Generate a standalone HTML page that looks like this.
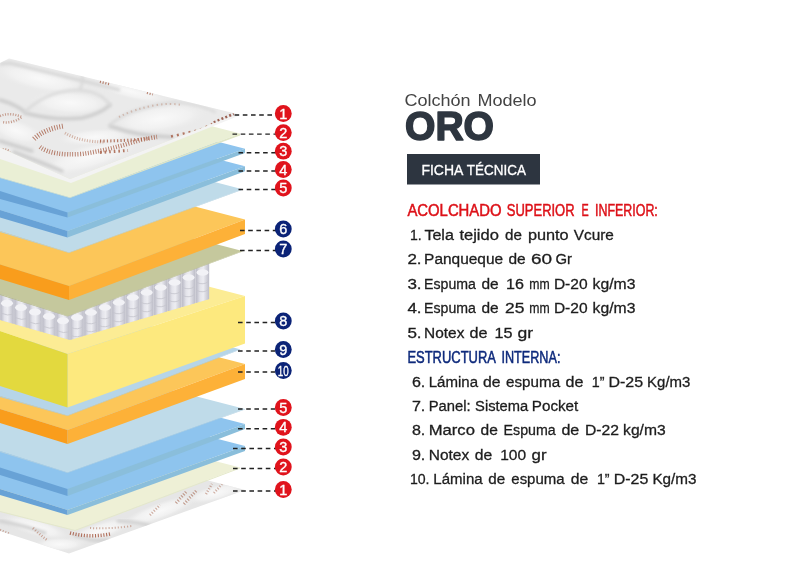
<!DOCTYPE html>
<html lang="es"><head><meta charset="utf-8"><title>Colchón Modelo ORO</title>
<style>
html,body{margin:0;padding:0;background:#fff;}
body{width:800px;height:588px;overflow:hidden;font-family:"Liberation Sans",sans-serif;}
svg{display:block}
svg text{font-family:"Liberation Sans",sans-serif;}
</style></head><body>
<svg width="800" height="588" viewBox="0 0 800 588">
<defs>
<linearGradient id="fabg" x1="0" y1="0" x2="1" y2="1">
<stop offset="0" stop-color="#ececec"/><stop offset="1" stop-color="#e6e6e6"/>
</linearGradient>
<radialGradient id="puff" cx="0.5" cy="0.45" r="0.5">
<stop offset="0" stop-color="#f9f9f9"/><stop offset="0.6" stop-color="#f1f1f1"/><stop offset="1" stop-color="#eaeaea" stop-opacity="0"/>
</radialGradient>
<filter id="blur" x="-10%" y="-10%" width="120%" height="120%"><feGaussianBlur stdDeviation="1.6"/></filter>
<linearGradient id="cyl" x1="0" y1="0" x2="1" y2="0">
<stop offset="0" stop-color="#babac6"/><stop offset="0.3" stop-color="#e3e3ea"/><stop offset="0.55" stop-color="#ededf2"/><stop offset="1" stop-color="#bebec9"/>
</linearGradient>
<pattern id="spr" width="13" height="60" patternUnits="userSpaceOnUse" patternTransform="skewY(-18)">
<rect width="13" height="60" fill="#e9e9ee"/>
<rect x="1" width="11" height="60" fill="#f4f4f7"/>
<rect x="3" width="6" height="60" fill="#fdfdfe"/>
</pattern>
</defs>
<rect width="800" height="588" fill="#fff"/>
<g id="fab-low">
<clipPath id="fabclip2"><polygon points="0,470 135,461.4 245,490 69,553.5 0,531"/></clipPath>
<g clip-path="url(#fabclip2)">
<rect x="0" y="455" width="250" height="100" fill="#e6e6e6"/>
<ellipse cx="160" cy="512" rx="42" ry="9" transform="rotate(-20 160 512)" fill="url(#puff)"/>
<ellipse cx="100" cy="532" rx="36" ry="9" transform="rotate(-18 100 532)" fill="url(#puff)"/>
<ellipse cx="35" cy="528" rx="36" ry="9" transform="rotate(16 35 528)" fill="url(#puff)"/>
<ellipse cx="215" cy="494" rx="30" ry="8" transform="rotate(-14 215 494)" fill="url(#puff)"/>
<ellipse cx="60" cy="545" rx="26" ry="7" transform="rotate(0 60 545)" fill="url(#puff)"/>
<path d="M0 521 Q30 527 45 533 M118 521 Q140 522 150 526 M75 536 Q95 542 108 540" stroke="#cfcfcf" stroke-width="3" fill="none" stroke-linecap="round" filter="url(#blur)"/>
<path d="M70 533 Q90 538 110 534" stroke="#a8614a" stroke-width="3.5" stroke-dasharray="1.1 1.7" fill="none" opacity="0.9"/>
<path d="M90 528 Q110 529 132 526" stroke="#c39a8a" stroke-width="2" stroke-dasharray="1.1 2" fill="none" opacity="0.8"/>
<path d="M176 503 L186 492 M184 504 L197 490" stroke="#b07a66" stroke-width="3" stroke-dasharray="1 1.8" fill="none" opacity="0.8"/>
<path d="M206 494 L212 484 M214 493 L222 484 M150 515 L160 505" stroke="#b98572" stroke-width="2.5" stroke-dasharray="1 1.8" fill="none" opacity="0.7"/>
<path d="M0 530 L10 534 M33 528 Q40 535 47 540" stroke="#b98572" stroke-width="2.5" stroke-dasharray="1 1.8" fill="none" opacity="0.7"/>
</g>
</g>
<polygon points="0,455 130,438.9 240,467.5 75,530 0,511" fill="#eef0d6" />
<polygon points="75,530 240,467.5 240,468.5 75,531" fill="#e4e8c8" />
<polygon points="0,511 75,530 75,531 0,512" fill="#e4e8c8" />
<polygon points="0,435 135,417.4 245,446 67.5,510 0,489" fill="#8ec4ee" />
<polygon points="67.5,510 245,446 245,451 67.5,515" fill="#8abedb" />
<polygon points="0,489 67.5,510 67.5,515 0,495" fill="#68a2d6" />
<polygon points="0,411 135,395.4 245,424 67.5,489 0,467.5" fill="#8ec4ee" />
<polygon points="67.5,489 245,424 245,429 67.5,496" fill="#8abedb" />
<polygon points="0,467.5 67.5,489 67.5,496 0,475" fill="#68a2d6" />
<polygon points="0,383 135,380.4 245,409 67.5,472.5 0,451" fill="#bfdbe9" />
<polygon points="67.5,472.5 245,409 245,409.5 67.5,473" fill="#b0cfe0" />
<polygon points="0,451 67.5,472.5 67.5,473 0,452" fill="#b0cfe0" />
<polygon points="0,355 135,335.4 245,364 67.5,430 0,409" fill="#fcc659" />
<polygon points="67.5,430 245,364 245,379 67.5,444" fill="#fdb138" />
<polygon points="0,409 67.5,430 67.5,444 0,423" fill="#f99d1c" />
<polygon points="0,346 130,320.7 240,349.3 67.5,415.5 0,396" fill="#b6d5e8" />
<polygon points="67.5,415.5 240,349.3 240,349.8 67.5,416" fill="#aacbe0" />
<polygon points="0,396 67.5,415.5 67.5,416 0,397" fill="#aacbe0" />
<polygon points="0,280 135,267.4 245,296 67.5,354 0,331" fill="#fcec94" />
<polygon points="67.5,354 245,296 245,343.5 67.5,407.5" fill="#fde97e" />
<polygon points="0,331 67.5,354 67.5,407.5 0,386" fill="#e3d93e" />
<clipPath id="sprclip"><polygon points="0,285 70,310 209.5,262 209.5,299 70,340 0,320"/></clipPath>
<g id="springs" clip-path="url(#sprclip)">
<polygon points="0,285 70,310 209.5,262 209.5,299 70,340 0,320" fill="#cfcfd7" />
<rect x="70.6" y="305.5" width="12.8" height="38.4" fill="url(#cyl)"/>
<ellipse cx="77.0" cy="317.5" rx="6.0" ry="3.2" fill="#f2f2f6"/>
<path d="M71.0 327.5 q7.0 3 11.9 -1 M71.0 335.5 q7.0 3 11.9 -1" stroke="#c4c4cd" stroke-width="0.8" fill="none"/>
<rect x="84.5" y="300.5" width="12.8" height="39.4" fill="url(#cyl)"/>
<ellipse cx="90.9" cy="312.5" rx="6.0" ry="3.2" fill="#f2f2f6"/>
<path d="M85.0 322.5 q7.0 3 11.9 -1 M85.0 330.5 q7.0 3 11.9 -1" stroke="#c4c4cd" stroke-width="0.8" fill="none"/>
<rect x="98.5" y="295.5" width="12.8" height="40.2" fill="url(#cyl)"/>
<ellipse cx="104.9" cy="307.5" rx="6.0" ry="3.2" fill="#f2f2f6"/>
<path d="M98.9 317.5 q7.0 3 11.9 -1 M98.9 325.5 q7.0 3 11.9 -1" stroke="#c4c4cd" stroke-width="0.8" fill="none"/>
<rect x="112.4" y="290.5" width="12.8" height="41.1" fill="url(#cyl)"/>
<ellipse cx="118.8" cy="302.5" rx="6.0" ry="3.2" fill="#f2f2f6"/>
<path d="M112.8 312.5 q7.0 3 11.9 -1 M112.8 320.5 q7.0 3 11.9 -1" stroke="#c4c4cd" stroke-width="0.8" fill="none"/>
<rect x="126.4" y="285.5" width="12.8" height="42.1" fill="url(#cyl)"/>
<ellipse cx="132.8" cy="297.5" rx="6.0" ry="3.2" fill="#f2f2f6"/>
<path d="M126.8 307.5 q7.0 3 11.9 -1 M126.8 315.5 q7.0 3 11.9 -1" stroke="#c4c4cd" stroke-width="0.8" fill="none"/>
<rect x="140.3" y="280.5" width="12.8" height="42.9" fill="url(#cyl)"/>
<ellipse cx="146.7" cy="292.5" rx="6.0" ry="3.2" fill="#f2f2f6"/>
<path d="M140.8 302.5 q7.0 3 11.9 -1 M140.8 310.5 q7.0 3 11.9 -1" stroke="#c4c4cd" stroke-width="0.8" fill="none"/>
<rect x="154.3" y="275.5" width="12.8" height="43.9" fill="url(#cyl)"/>
<ellipse cx="160.7" cy="287.5" rx="6.0" ry="3.2" fill="#f2f2f6"/>
<path d="M154.7 297.5 q7.0 3 11.9 -1 M154.7 305.5 q7.0 3 11.9 -1" stroke="#c4c4cd" stroke-width="0.8" fill="none"/>
<rect x="168.2" y="270.5" width="12.8" height="44.8" fill="url(#cyl)"/>
<ellipse cx="174.6" cy="282.5" rx="6.0" ry="3.2" fill="#f2f2f6"/>
<path d="M168.6 292.5 q7.0 3 11.9 -1 M168.6 300.5 q7.0 3 11.9 -1" stroke="#c4c4cd" stroke-width="0.8" fill="none"/>
<rect x="182.2" y="265.5" width="12.8" height="45.6" fill="url(#cyl)"/>
<ellipse cx="188.6" cy="277.5" rx="6.0" ry="3.2" fill="#f2f2f6"/>
<path d="M182.6 287.5 q7.0 3 11.9 -1 M182.6 295.5 q7.0 3 11.9 -1" stroke="#c4c4cd" stroke-width="0.8" fill="none"/>
<rect x="196.2" y="260.5" width="12.8" height="46.6" fill="url(#cyl)"/>
<ellipse cx="202.5" cy="272.5" rx="6.0" ry="3.2" fill="#f2f2f6"/>
<path d="M196.6 282.5 q7.0 3 11.9 -1 M196.6 290.5 q7.0 3 11.9 -1" stroke="#c4c4cd" stroke-width="0.8" fill="none"/>
<rect x="0.6" y="290.2" width="12.8" height="37.8" fill="url(#cyl)"/>
<ellipse cx="7.0" cy="303.2" rx="6.0" ry="3.5" fill="#f2f2f6"/>
<path d="M1.0 313.2 q7.0 3 12.0 1" stroke="#c4c4cd" stroke-width="0.8" fill="none"/>
<rect x="14.6" y="294.6" width="12.8" height="37.4" fill="url(#cyl)"/>
<ellipse cx="21.0" cy="307.6" rx="6.0" ry="3.5" fill="#f2f2f6"/>
<path d="M15.0 317.6 q7.0 3 12.0 1" stroke="#c4c4cd" stroke-width="0.8" fill="none"/>
<rect x="28.6" y="299.0" width="12.8" height="37.0" fill="url(#cyl)"/>
<ellipse cx="35.0" cy="312.0" rx="6.0" ry="3.5" fill="#f2f2f6"/>
<path d="M29.0 322.0 q7.0 3 12.0 1" stroke="#c4c4cd" stroke-width="0.8" fill="none"/>
<rect x="42.6" y="303.4" width="12.8" height="36.6" fill="url(#cyl)"/>
<ellipse cx="49.0" cy="316.4" rx="6.0" ry="3.5" fill="#f2f2f6"/>
<path d="M43.0 326.4 q7.0 3 12.0 1" stroke="#c4c4cd" stroke-width="0.8" fill="none"/>
<rect x="56.6" y="307.8" width="12.8" height="36.2" fill="url(#cyl)"/>
<ellipse cx="63.0" cy="320.8" rx="6.0" ry="3.5" fill="#f2f2f6"/>
<path d="M57.0 330.8 q7.0 3 12.0 1" stroke="#c4c4cd" stroke-width="0.8" fill="none"/>
</g>
<polygon points="0,239 132.5,222.4 242.5,251 67.5,316 0,294" fill="#c5c89d" />
<polygon points="67.5,316 242.5,251 242.5,251.5 67.5,316.5" fill="#b8bc8e" />
<polygon points="0,294 67.5,316 67.5,316.5 0,295" fill="#b8bc8e" />
<polygon points="0,191 135,190.9 245,219.5 69,286 0,264.5" fill="#fcc659" />
<polygon points="69,286 245,219.5 245,234 69,300" fill="#fdb138" />
<polygon points="0,264.5 69,286 69,300 0,279" fill="#f99d1c" />
<polygon points="0,177.5 132.5,160.65 242.5,189.25 69,252.5 0,231" fill="#bfdbe9" />
<polygon points="69,252.5 242.5,189.25 242.5,189.75 69,253" fill="#b0cfe0" />
<polygon points="0,231 69,252.5 69,253 0,232" fill="#b0cfe0" />
<polygon points="0,159 135,137.65 245,166.25 67.5,231 0,210" fill="#8ec4ee" />
<polygon points="67.5,231 245,166.25 245,171.25 67.5,237.5" fill="#8abedb" />
<polygon points="0,210 67.5,231 67.5,237.5 0,217.5" fill="#68a2d6" />
<polygon points="0,137.5 135,120.15 245,148.75 67.5,212.5 0,191" fill="#8ec4ee" />
<polygon points="67.5,212.5 245,148.75 245,153 67.5,217.5" fill="#8abedb" />
<polygon points="0,191 67.5,212.5 67.5,217.5 0,199" fill="#68a2d6" />
<polygon points="0,119 130,104.9 240,133.5 70,197.5 0,177.5" fill="#eaefd5" />
<polygon points="70,197.5 240,133.5 240,135.5 70,198" fill="#e0e6c6" />
<polygon points="0,177.5 70,197.5 70,198 0,178" fill="#e0e6c6" />
<polygon points="0,147.5 70,179 237.5,114 238.5,116 71,183 0,159" fill="#f3f3f3" />
<clipPath id="fabclip"><polygon points="0,63 9,58.5 237.5,114 70,179 0,147.5"/></clipPath>
<g clip-path="url(#fabclip)">
<rect x="0" y="50" width="245" height="135" fill="#eaeaea"/>
<ellipse cx="40" cy="80" rx="50" ry="13" transform="rotate(12 40 80)" fill="url(#puff)"/>
<ellipse cx="70" cy="104" rx="42" ry="13" transform="rotate(3 70 104)" fill="url(#puff)"/>
<ellipse cx="160" cy="120" rx="50" ry="15" transform="rotate(-8 160 120)" fill="url(#puff)"/>
<ellipse cx="16" cy="132" rx="30" ry="12" transform="rotate(18 16 132)" fill="url(#puff)"/>
<ellipse cx="90" cy="158" rx="55" ry="14" transform="rotate(-16 90 158)" fill="url(#puff)"/>
<ellipse cx="130" cy="92" rx="40" ry="8" transform="rotate(14 130 92)" fill="url(#puff)"/>
<ellipse cx="95" cy="138" rx="40" ry="9" transform="rotate(-4 95 138)" fill="url(#puff)"/>
<path d="M0 64 L10 63 L120 90" stroke="#d6d6d6" stroke-width="3" fill="none" filter="url(#blur)"/>
<path d="M25 113 Q55 121 82 118 Q100 114 110 105 M110 126 Q140 137 172 137 M0 100 Q15 104 25 112 M0 141 Q16 146 32 151 M14 152 Q40 162 62 171" stroke="#cdcdcd" stroke-width="3.5" fill="none" stroke-linecap="round" filter="url(#blur)"/>
<path d="M25 112 Q45 92 75 90 Q100 90 110 105 M110 125 Q128 108 175 102 Q200 104 215 112 M82 74 Q84 82 80 89" stroke="#d9d9d9" stroke-width="2.5" fill="none" stroke-linecap="round" filter="url(#blur)"/>
<path d="M34 139 Q44 129 64 126" stroke="#a8614a" stroke-width="5" stroke-dasharray="0.9 1.7" fill="none" opacity="0.85"/>
<path d="M40 147 Q52 156 82 154 Q110 150 140 140 Q150 138 157 137" stroke="#a8614a" stroke-width="4.5" stroke-dasharray="0.9 1.7" fill="none" opacity="0.85"/>
<path d="M65 133 Q80 142 105 142" stroke="#c9a090" stroke-width="3" stroke-dasharray="1 1.6" fill="none" opacity="0.8"/>
<path d="M100 141 Q125 141 149 138.5" stroke="#a8614a" stroke-width="3" stroke-dasharray="1.2 2.2" fill="none" opacity="0.85"/>
<path d="M100 152.5 L128 150.5" stroke="#a8614a" stroke-width="3" stroke-dasharray="1.6 3" fill="none" opacity="0.85"/>
<path d="M171 136.5 L199.5 130 L212.5 124" stroke="#a8614a" stroke-width="2.5" stroke-dasharray="2 4" fill="none" opacity="0.85"/>
<path d="M214 123 L234 114.5" stroke="#8e4a3a" stroke-width="4" stroke-dasharray="2 2.2" fill="none" opacity="0.85"/>
<path d="M119 117 Q134 109 156 105 Q170 103 182.5 105" stroke="#c9a698" stroke-width="2" stroke-dasharray="1.4 3" fill="none" opacity="0.7"/>
<path d="M100 81.5 L110 84" stroke="#a8614a" stroke-width="3" stroke-dasharray="1 1.8" fill="none" opacity="0.85"/>
<path d="M147 92.5 L153 94" stroke="#a8614a" stroke-width="3" stroke-dasharray="1 1.8" fill="none" opacity="0.85"/>
<path d="M0 116 Q10 112 22 117 Q12 124 2 122" stroke="#b98572" stroke-width="2.5" stroke-dasharray="1 1.6" fill="none" opacity="0.8"/>
<path d="M0 150 Q6 148 10 152" stroke="#b98572" stroke-width="2.5" stroke-dasharray="1 1.6" fill="none" opacity="0.8"/>
</g>
<line x1="234.6" y1="115.0" x2="276.5" y2="115.0" stroke="#222" stroke-width="1.4" stroke-dasharray="4.6 3.6"/>
<circle cx="283.3" cy="113.5" r="8.4" fill="#e0131c"/>
<text x="283.3" y="118.6" font-size="14.5" fill="#fff" stroke="#fff" stroke-width="0.35" text-anchor="middle">1</text>
<line x1="232.5" y1="134.1" x2="276.5" y2="134.1" stroke="#222" stroke-width="1.4" stroke-dasharray="4.6 3.6"/>
<circle cx="283.3" cy="132.6" r="8.4" fill="#e0131c"/>
<text x="283.3" y="137.7" font-size="14.5" fill="#fff" stroke="#fff" stroke-width="0.35" text-anchor="middle">2</text>
<line x1="238.5" y1="152.7" x2="276.5" y2="152.7" stroke="#222" stroke-width="1.4" stroke-dasharray="4.6 3.6"/>
<circle cx="283.3" cy="151.2" r="8.4" fill="#e0131c"/>
<text x="283.3" y="156.29999999999998" font-size="14.5" fill="#fff" stroke="#fff" stroke-width="0.35" text-anchor="middle">3</text>
<line x1="238.5" y1="171.0" x2="276.5" y2="171.0" stroke="#222" stroke-width="1.4" stroke-dasharray="4.6 3.6"/>
<circle cx="283.3" cy="169.5" r="8.4" fill="#e0131c"/>
<text x="283.3" y="174.6" font-size="14.5" fill="#fff" stroke="#fff" stroke-width="0.35" text-anchor="middle">4</text>
<line x1="238.5" y1="189.5" x2="276.5" y2="189.5" stroke="#222" stroke-width="1.4" stroke-dasharray="4.6 3.6"/>
<circle cx="283.3" cy="188" r="8.4" fill="#e0131c"/>
<text x="283.3" y="193.1" font-size="14.5" fill="#fff" stroke="#fff" stroke-width="0.35" text-anchor="middle">5</text>
<line x1="240" y1="230.5" x2="276.5" y2="230.5" stroke="#222" stroke-width="1.4" stroke-dasharray="4.6 3.6"/>
<circle cx="283.3" cy="229" r="8.4" fill="#0b2377"/>
<text x="283.3" y="234.1" font-size="14.5" fill="#fff" stroke="#fff" stroke-width="0.35" text-anchor="middle">6</text>
<line x1="240" y1="250.5" x2="276.5" y2="250.5" stroke="#222" stroke-width="1.4" stroke-dasharray="4.6 3.6"/>
<circle cx="283.3" cy="249" r="8.4" fill="#0b2377"/>
<text x="283.3" y="254.1" font-size="14.5" fill="#fff" stroke="#fff" stroke-width="0.35" text-anchor="middle">7</text>
<line x1="238" y1="322.5" x2="276.5" y2="322.5" stroke="#222" stroke-width="1.4" stroke-dasharray="4.6 3.6"/>
<circle cx="283.3" cy="321" r="8.4" fill="#0b2377"/>
<text x="283.3" y="326.1" font-size="14.5" fill="#fff" stroke="#fff" stroke-width="0.35" text-anchor="middle">8</text>
<line x1="238" y1="351.0" x2="276.5" y2="351.0" stroke="#222" stroke-width="1.4" stroke-dasharray="4.6 3.6"/>
<circle cx="283.3" cy="349.5" r="8.4" fill="#0b2377"/>
<text x="283.3" y="354.6" font-size="14.5" fill="#fff" stroke="#fff" stroke-width="0.35" text-anchor="middle">9</text>
<line x1="238" y1="372.0" x2="276.5" y2="372.0" stroke="#222" stroke-width="1.4" stroke-dasharray="4.6 3.6"/>
<circle cx="283.3" cy="370.5" r="8.4" fill="#0b2377"/>
<text x="283.3" y="375.6" font-size="14.5" fill="#fff" stroke="#fff" stroke-width="0.35" text-anchor="middle" textLength="11" lengthAdjust="spacingAndGlyphs">10</text>
<line x1="238" y1="409.0" x2="276.5" y2="409.0" stroke="#222" stroke-width="1.4" stroke-dasharray="4.6 3.6"/>
<circle cx="283.3" cy="407.5" r="8.4" fill="#e0131c"/>
<text x="283.3" y="412.6" font-size="14.5" fill="#fff" stroke="#fff" stroke-width="0.35" text-anchor="middle">5</text>
<line x1="238" y1="428.8" x2="276.5" y2="428.8" stroke="#222" stroke-width="1.4" stroke-dasharray="4.6 3.6"/>
<circle cx="283.3" cy="427.3" r="8.4" fill="#e0131c"/>
<text x="283.3" y="432.40000000000003" font-size="14.5" fill="#fff" stroke="#fff" stroke-width="0.35" text-anchor="middle">4</text>
<line x1="233" y1="448.5" x2="276.5" y2="448.5" stroke="#222" stroke-width="1.4" stroke-dasharray="4.6 3.6"/>
<circle cx="283.3" cy="447" r="8.4" fill="#e0131c"/>
<text x="283.3" y="452.1" font-size="14.5" fill="#fff" stroke="#fff" stroke-width="0.35" text-anchor="middle">3</text>
<line x1="233" y1="468.5" x2="276.5" y2="468.5" stroke="#222" stroke-width="1.4" stroke-dasharray="4.6 3.6"/>
<circle cx="283.3" cy="467" r="8.4" fill="#e0131c"/>
<text x="283.3" y="472.1" font-size="14.5" fill="#fff" stroke="#fff" stroke-width="0.35" text-anchor="middle">2</text>
<line x1="233" y1="491.0" x2="276.5" y2="491.0" stroke="#222" stroke-width="1.4" stroke-dasharray="4.6 3.6"/>
<circle cx="283.3" cy="489.5" r="8.4" fill="#e0131c"/>
<text x="283.3" y="494.6" font-size="14.5" fill="#fff" stroke="#fff" stroke-width="0.35" text-anchor="middle">1</text>
<text y="105.6" font-size="17.2" fill="#444" font-weight="normal"><tspan x="404.4" textLength="66.2" lengthAdjust="spacingAndGlyphs">Colchón</tspan> <tspan x="477.4" textLength="59.2" lengthAdjust="spacingAndGlyphs">Modelo</tspan></text>
<text x="405" y="139.5" textLength="89" lengthAdjust="spacingAndGlyphs" font-size="40.5" font-weight="bold" fill="#2e3640" stroke="#2e3640" stroke-width="1.6" stroke-linejoin="round">ORO</text>
<rect x="407" y="154" width="133" height="30.5" fill="#2d3540"/>
<text y="175.2" font-size="15.5" fill="#fff" font-weight="normal" stroke="#fff" stroke-width="0.35"><tspan x="421.4" textLength="41.2" lengthAdjust="spacingAndGlyphs">FICHA</tspan> <tspan x="466.8" textLength="59.1" lengthAdjust="spacingAndGlyphs">TÉCNICA</tspan></text>
<text y="215.7" font-size="16" fill="#dd1118" font-weight="normal" stroke="#dd1118" stroke-width="0.5"><tspan x="407.4" textLength="94.2" lengthAdjust="spacingAndGlyphs">ACOLCHADO</tspan> <tspan x="506.8" textLength="67.8" lengthAdjust="spacingAndGlyphs">SUPERIOR</tspan> <tspan x="581.4" textLength="7.2" lengthAdjust="spacingAndGlyphs">E</tspan> <tspan x="595.0" textLength="62.8" lengthAdjust="spacingAndGlyphs">INFERIOR:</tspan></text>
<text y="239.8" font-size="15.2" fill="#1d1d1d" font-weight="normal" stroke="#1d1d1d" stroke-width="0.3"><tspan x="409.9" textLength="11.7" lengthAdjust="spacingAndGlyphs">1.</tspan> <tspan x="424.4" textLength="29.5" lengthAdjust="spacingAndGlyphs">Tela</tspan> <tspan x="459.4" textLength="39.5" lengthAdjust="spacingAndGlyphs">tejido</tspan> <tspan x="505.0" textLength="16.9" lengthAdjust="spacingAndGlyphs">de</tspan> <tspan x="527.9" textLength="40.8" lengthAdjust="spacingAndGlyphs">punto</tspan> <tspan x="573.8" textLength="40.1" lengthAdjust="spacingAndGlyphs">Vcure</tspan></text>
<text y="264.2" font-size="15.2" fill="#1d1d1d" font-weight="normal" stroke="#1d1d1d" stroke-width="0.3"><tspan x="407.4" textLength="14.2" lengthAdjust="spacingAndGlyphs">2.</tspan> <tspan x="424.1" textLength="79.0" lengthAdjust="spacingAndGlyphs">Panqueque</tspan> <tspan x="508.4" textLength="17.2" lengthAdjust="spacingAndGlyphs">de</tspan> <tspan x="531.0" textLength="21.1" lengthAdjust="spacingAndGlyphs">60</tspan> <tspan x="555.4" textLength="16.5" lengthAdjust="spacingAndGlyphs">Gr</tspan></text>
<text y="288.6" font-size="15.2" fill="#1d1d1d" font-weight="normal" stroke="#1d1d1d" stroke-width="0.3"><tspan x="407.4" textLength="14.2" lengthAdjust="spacingAndGlyphs">3.</tspan> <tspan x="424.1" textLength="51.8" lengthAdjust="spacingAndGlyphs">Espuma</tspan> <tspan x="481.4" textLength="17.2" lengthAdjust="spacingAndGlyphs">de</tspan> <tspan x="506.1" textLength="17.9" lengthAdjust="spacingAndGlyphs">16</tspan> <tspan x="529.2" textLength="20.4" lengthAdjust="spacingAndGlyphs">mm</tspan> <tspan x="553.9" textLength="33.7" lengthAdjust="spacingAndGlyphs">D-20</tspan> <tspan x="592.6" textLength="42.8" lengthAdjust="spacingAndGlyphs">kg/m3</tspan></text>
<text y="313.1" font-size="15.2" fill="#1d1d1d" font-weight="normal" stroke="#1d1d1d" stroke-width="0.3"><tspan x="407.4" textLength="14.2" lengthAdjust="spacingAndGlyphs">4.</tspan> <tspan x="424.1" textLength="51.8" lengthAdjust="spacingAndGlyphs">Espuma</tspan> <tspan x="481.4" textLength="17.2" lengthAdjust="spacingAndGlyphs">de</tspan> <tspan x="505.0" textLength="19.4" lengthAdjust="spacingAndGlyphs">25</tspan> <tspan x="529.2" textLength="20.4" lengthAdjust="spacingAndGlyphs">mm</tspan> <tspan x="553.9" textLength="33.7" lengthAdjust="spacingAndGlyphs">D-20</tspan> <tspan x="592.6" textLength="42.8" lengthAdjust="spacingAndGlyphs">kg/m3</tspan></text>
<text y="337.5" font-size="15.2" fill="#1d1d1d" font-weight="normal" stroke="#1d1d1d" stroke-width="0.3"><tspan x="407.4" textLength="14.2" lengthAdjust="spacingAndGlyphs">5.</tspan> <tspan x="424.1" textLength="40.3" lengthAdjust="spacingAndGlyphs">Notex</tspan> <tspan x="469.4" textLength="18.0" lengthAdjust="spacingAndGlyphs">de</tspan> <tspan x="494.6" textLength="18.0" lengthAdjust="spacingAndGlyphs">15</tspan> <tspan x="517.6" textLength="15.6" lengthAdjust="spacingAndGlyphs">gr</tspan></text>
<text y="362.6" font-size="16" fill="#0e2a7c" font-weight="normal" stroke="#0e2a7c" stroke-width="0.5"><tspan x="407.4" textLength="87.8" lengthAdjust="spacingAndGlyphs">ESTRUCTURA</tspan> <tspan x="501.4" textLength="59.0" lengthAdjust="spacingAndGlyphs">INTERNA:</tspan></text>
<text y="386.6" font-size="15.2" fill="#1d1d1d" font-weight="normal" stroke="#1d1d1d" stroke-width="0.3"><tspan x="411.9" textLength="13.4" lengthAdjust="spacingAndGlyphs">6.</tspan> <tspan x="428.7" textLength="49.3" lengthAdjust="spacingAndGlyphs">Lámina</tspan> <tspan x="483.1" textLength="17.5" lengthAdjust="spacingAndGlyphs">de</tspan> <tspan x="506.1" textLength="54.0" lengthAdjust="spacingAndGlyphs">espuma</tspan> <tspan x="565.6" textLength="17.9" lengthAdjust="spacingAndGlyphs">de</tspan> <tspan x="591.7" textLength="12.7" lengthAdjust="spacingAndGlyphs">1”</tspan> <tspan x="608.4" textLength="34.7" lengthAdjust="spacingAndGlyphs">D-25</tspan> <tspan x="647.1" textLength="43.3" lengthAdjust="spacingAndGlyphs">Kg/m3</tspan></text>
<text y="411.0" font-size="15.2" fill="#1d1d1d" font-weight="normal" stroke="#1d1d1d" stroke-width="0.3"><tspan x="411.9" textLength="13.4" lengthAdjust="spacingAndGlyphs">7.</tspan> <tspan x="428.7" textLength="41.9" lengthAdjust="spacingAndGlyphs">Panel:</tspan> <tspan x="475.1" textLength="53.1" lengthAdjust="spacingAndGlyphs">Sistema</tspan> <tspan x="531.8" textLength="46.5" lengthAdjust="spacingAndGlyphs">Pocket</tspan></text>
<text y="435.4" font-size="15.2" fill="#1d1d1d" font-weight="normal" stroke="#1d1d1d" stroke-width="0.3"><tspan x="411.9" textLength="13.4" lengthAdjust="spacingAndGlyphs">8.</tspan> <tspan x="428.7" textLength="46.2" lengthAdjust="spacingAndGlyphs">Marco</tspan> <tspan x="480.6" textLength="17.3" lengthAdjust="spacingAndGlyphs">de</tspan> <tspan x="503.6" textLength="52.1" lengthAdjust="spacingAndGlyphs">Espuma</tspan> <tspan x="561.4" textLength="17.9" lengthAdjust="spacingAndGlyphs">de</tspan> <tspan x="585.0" textLength="34.1" lengthAdjust="spacingAndGlyphs">D-22</tspan> <tspan x="623.1" textLength="42.6" lengthAdjust="spacingAndGlyphs">kg/m3</tspan></text>
<text y="459.6" font-size="15.2" fill="#1d1d1d" font-weight="normal" stroke="#1d1d1d" stroke-width="0.3"><tspan x="411.9" textLength="13.4" lengthAdjust="spacingAndGlyphs">9.</tspan> <tspan x="428.7" textLength="40.5" lengthAdjust="spacingAndGlyphs">Notex</tspan> <tspan x="474.7" textLength="17.5" lengthAdjust="spacingAndGlyphs">de</tspan> <tspan x="500.2" textLength="25.9" lengthAdjust="spacingAndGlyphs">100</tspan> <tspan x="531.6" textLength="15.0" lengthAdjust="spacingAndGlyphs">gr</tspan></text>
<text y="484.0" font-size="15.2" fill="#1d1d1d" font-weight="normal" stroke="#1d1d1d" stroke-width="0.3"><tspan x="409.9" textLength="19.6" lengthAdjust="spacingAndGlyphs">10.</tspan> <tspan x="433.3" textLength="49.3" lengthAdjust="spacingAndGlyphs">Lámina</tspan> <tspan x="488.3" textLength="16.9" lengthAdjust="spacingAndGlyphs">de</tspan> <tspan x="511.3" textLength="53.3" lengthAdjust="spacingAndGlyphs">espuma</tspan> <tspan x="570.8" textLength="17.5" lengthAdjust="spacingAndGlyphs">de</tspan> <tspan x="596.9" textLength="12.7" lengthAdjust="spacingAndGlyphs">1”</tspan> <tspan x="613.7" textLength="34.6" lengthAdjust="spacingAndGlyphs">D-25</tspan> <tspan x="652.4" textLength="44.1" lengthAdjust="spacingAndGlyphs">Kg/m3</tspan></text>
</svg>
</body></html>
